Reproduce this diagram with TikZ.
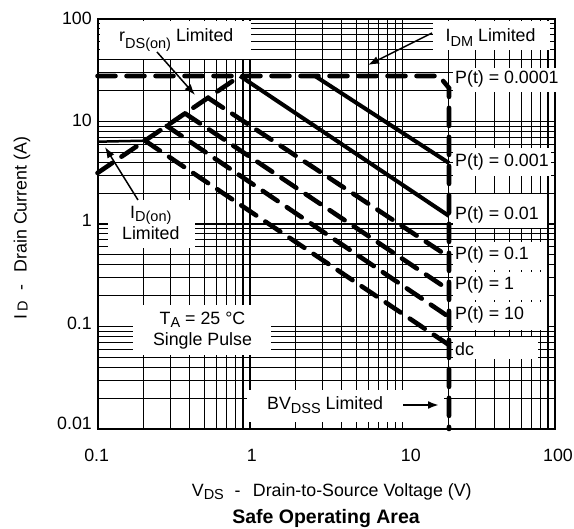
\documentclass[tikz,border=0pt]{standalone}
\usepackage{fontspec}
\setmainfont{Liberation Sans}
\usetikzlibrary{arrows.meta}
\newcommand\subs[2][0.2em]{\raisebox{-#1}{\fontsize{14.5}{15}\selectfont #2}}
\begin{document}
\begin{tikzpicture}[x=1pt,y=-1pt,font=\fontsize{17.8}{20}\selectfont,
  gridline/.style={line width=1.1pt},
  frameline/.style={line width=2pt},
  whitebox/.style={fill=white,draw=none},
  thickdash/.style={line width=4.6pt,dash pattern=on 18pt off 11pt,line cap=round},
  thicksolid/.style={line width=4pt},
  callout/.style={line width=1.5pt,-{Latex[length=11pt,width=8pt]}},
  lbl/.style={inner sep=0pt,anchor=base west},
  ticklbl/.style={inner sep=0pt,anchor=base},
  ylbl/.style={inner sep=0pt,anchor=base east},
]
\useasboundingbox (0,0) rectangle (574,529);
% grid
\foreach \d in {0,1,2}{\foreach \m in {1,...,9}{
  \pgfmathsetmacro\xx{97.5+152.5*(\d+log10(\m))}
  \draw[gridline] (\xx,19) -- (\xx,429);}}
\foreach \d in {0,1,2,3}{\foreach \m in {1,...,9}{
  \pgfmathsetmacro\yy{429-102.5*(\d+log10(\m))}
  \draw[gridline] (97.5,\yy) -- (555,\yy);}}
\draw[frameline] (97.5,19) rectangle (555,429);
% white label boxes
\fill[whitebox] (100,21) rectangle (251,59);
\fill[whitebox] (433,21) rectangle (550,50);
\fill[whitebox] (453,68) rectangle (562,92);
\fill[whitebox] (453,148) rectangle (551,176);
\fill[whitebox] (453,194) rectangle (547,228);
\fill[whitebox] (453,242) rectangle (547,270);
\fill[whitebox] (453,272) rectangle (547,300);
\fill[whitebox] (453,302) rectangle (547,330);
\fill[whitebox] (453,337) rectangle (538,359);
\fill[whitebox] (133,305) rectangle (271,355);
\fill[whitebox] (108,200) rectangle (195,248);
\fill[whitebox] (247,390) rectangle (444,422);
% curve points
\coordinate (idmL) at (97.5,76);
\coordinate (peak) at (240,76);
\coordinate (cornA) at (439,76);
\coordinate (cornB) at (449,88);
\coordinate (bvB) at (449,429);
\coordinate (rdsL) at (97.5,173);
\coordinate (p3s) at (315,76);   \coordinate (p3e) at (449,163);
\coordinate (p2e) at (449,216);
\coordinate (p1s) at (208,97.8); \coordinate (p1e) at (449,257);
\coordinate (p0s) at (185,113.4);\coordinate (p0e) at (449,290);
\coordinate (p10s) at (166.7,125.9);\coordinate (p10e) at (449,317);
\coordinate (dcs) at (145,140.7);\coordinate (dce) at (449,345);
\coordinate (idonL) at (97.5,141.7);
% curves
\draw[thickdash] (idmL) -- (cornA) -- (cornB) -- (bvB);
\draw[thickdash] (rdsL) -- (peak);
\draw[thicksolid] (p3s) -- (p3e);
\draw[thicksolid] (peak) -- (p2e);
\draw[thickdash] (p1s) -- (p1e);
\draw[thickdash] (p0s) -- (p0e);
\draw[thickdash] (p10s) -- (p10e);
\draw[thickdash] (dcs) -- (dce);
\draw[line width=2.5pt] (idonL) -- (dcs);
% labels
\node[lbl] (rds) at (119,41.7) {r\subs[0.4em]{DS(on)} Limited};
\node[lbl] (idm) at (445.5,41.7) {I\subs[0.25em]{DM} Limited};
\node[lbl] (pa) at (455,84) {P(t) = 0.0001};
\node[lbl] (pb) at (455,166.5) {P(t) = 0.001};
\node[lbl] (pc) at (455,220) {P(t) = 0.01};
\node[lbl] (pd) at (455,260) {P(t) = 0.1};
\node[lbl] (pe) at (455,290) {P(t) = 1};
\node[lbl] (pf) at (455,320) {P(t) = 10};
\node[lbl] (dc) at (455,356) {dc};
\node[lbl] (bv) at (267,410) {BV\subs[0.18em]{DSS} Limited};
\node[ticklbl] (ta) at (202.5,325) {T\subs[0.15em]{A} = 25 °C};
\node[ticklbl] (sp) at (202.5,345.5) {Single Pulse};
\node[ticklbl] (idon) at (150.8,219) {I\subs[0.12em]{D(on)}};
\node[ticklbl] (idonl) at (150.8,240) {Limited};
% callouts
\coordinate (rdsA) at (157,52);  \coordinate (rdsT) at (195,95);
\coordinate (idmA) at (432,33);  \coordinate (idmT) at (368,65);
\coordinate (idonA) at (138,200);\coordinate (idonT) at (105,147);
\coordinate (bvA) at (403,405);  \coordinate (bvT) at (439,405);
\draw[callout] (rdsA) -- (rdsT);
\draw[callout] (idmA) -- (idmT);
\draw[callout] (idonA) -- (idonT);
\draw[callout,line width=2.4pt] (bvA) -- (bvT);
% ticks
\node[ticklbl] (x1) at (96.7,461.7) {0.1};
\node[ticklbl] (x2) at (251.7,461.7) {1};
\node[ticklbl] (x3) at (410.8,461.7) {10};
\node[ticklbl] (x4) at (558,461.7) {100};
\node[ylbl] (y1) at (92,25) {100};
\node[ylbl] (y2) at (92,126.7) {10};
\node[ylbl] (y3) at (92,226.7) {1};
\node[ylbl] (y4) at (92,330) {0.1};
\node[ylbl] (y5) at (92,430) {0.01};
% axis titles
\node[lbl] (xt) at (191.7,496.7) {V\subs[0.15em]{DS}\hspace{0.6em}-\hspace{0.7em}Drain-to-Source Voltage (V)};
\node[lbl,rotate=90] (yt) at (26.7,320) {I\,\subs[0.05em]{D}\hspace{0.6em}-\hspace{0.7em}Drain Current (A)};
\node[ticklbl,font=\fontsize{19.5}{22}\selectfont\bfseries] (title) at (326,524) {Safe Operating Area};
\end{tikzpicture}
\end{document}
